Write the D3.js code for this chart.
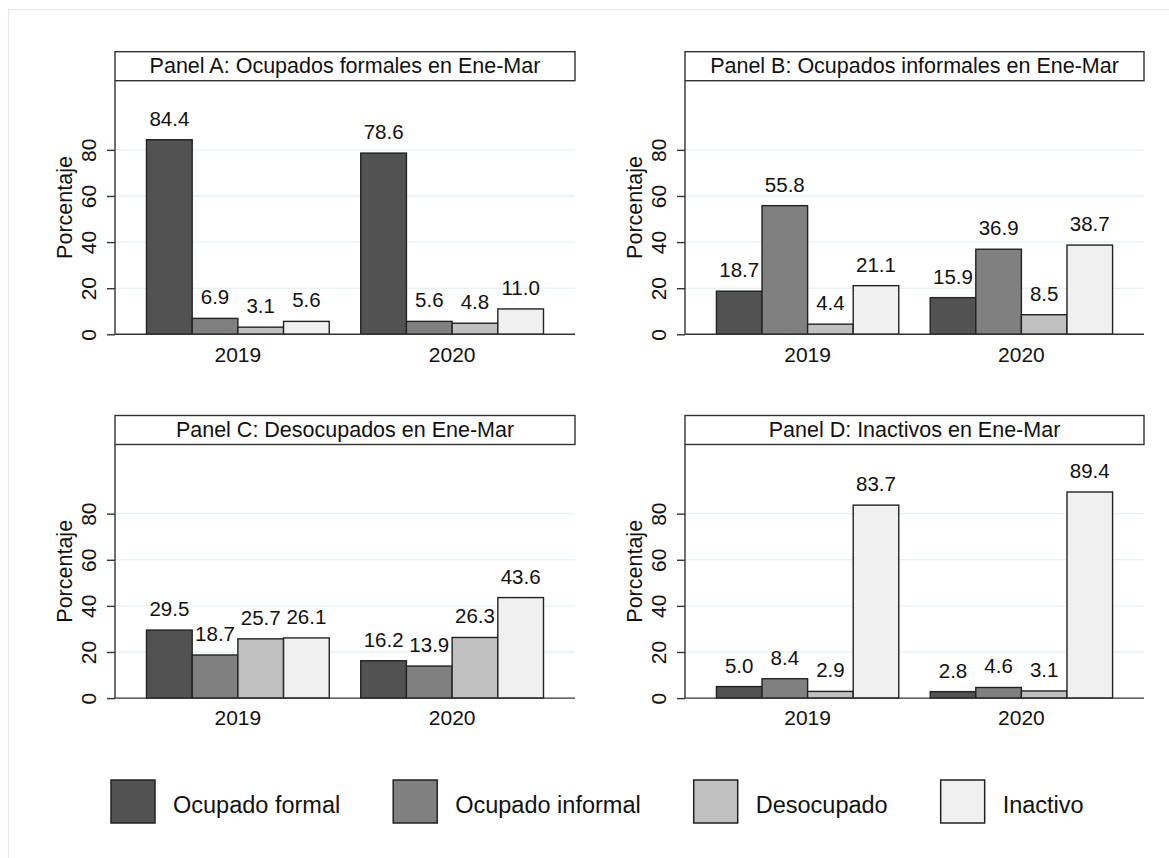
<!DOCTYPE html>
<html>
<head>
<meta charset="utf-8">
<script src="https://cdn.jsdelivr.net/npm/d3@7"></script>
<style>
  body { margin: 0; background: #fff; }
  text { font-family: "Liberation Sans", Arial, Helvetica, sans-serif; fill: #111; }
</style>
</head>
<body>
<svg id="chart" width="1169" height="858"></svg>
<script>
var years = ["2019", "2020"];
var series = ["Ocupado formal", "Ocupado informal", "Desocupado", "Inactivo"];
var yTicks = [0, 20, 40, 60, 80];

var titleA = "Panel A: Ocupados formales en Ene-Mar";
var titleB = "Panel B: Ocupados informales en Ene-Mar";
var titleC = "Panel C: Desocupados en Ene-Mar";
var titleD = "Panel D: Inactivos en Ene-Mar";

// one row per year, one value per series
var valuesA = [[84.4, 6.9, 3.1, 5.6], [78.6, 5.6, 4.8, 11.0]];
var valuesB = [[18.7, 55.8, 4.4, 21.1], [15.9, 36.9, 8.5, 38.7]];
var valuesC = [[29.5, 18.7, 25.7, 26.1], [16.2, 13.9, 26.3, 43.6]];
var valuesD = [[5.0, 8.4, 2.9, 83.7], [2.8, 4.6, 3.1, 89.4]];

var fills = ["#525252", "#808080", "#c0c0c0", "#f0f0f0"];
var color = d3.scaleOrdinal().domain(series).range(fills);

var svg = d3.select("#chart");

// faint outer frame (only its top and left edges are in view)
svg.append("rect")
  .attr("x", 8.5).attr("y", 9.5)
  .attr("width", 1300).attr("height", 1000)
  .attr("fill", "none")
  .attr("stroke", "#e4eaea")
  .attr("stroke-width", 1.2);

var panels = [
  { title: titleA, values: valuesA, x0: 115, x1: 575, top: 51.7 },
  { title: titleB, values: valuesB, x0: 685, x1: 1144, top: 51.7 },
  { title: titleC, values: valuesC, x0: 115, x1: 575, top: 415.5 },
  { title: titleD, values: valuesD, x0: 685, x1: 1144, top: 415.5 }
];

panels.forEach(drawPanel);

function drawPanel(p) {
  var g = svg.append("g");
  var boxH = 29;
  var plotTop = p.top + boxH;
  var plotBottom = plotTop + 253.6;

  var y = d3.scaleLinear().domain([0, 110]).range([plotBottom, plotTop]);
  var x = d3.scaleBand().domain(years).range([p.x0, p.x1])
    .paddingInner(0.147).paddingOuter(0.147);
  var xs = d3.scaleBand().domain(series).range([0, x.bandwidth()]);

  // gridlines
  g.selectAll(".grid")
    .data(yTicks.filter(function (d) { return d > 0; }))
    .enter()
    .append("line")
    .attr("x1", p.x0).attr("x2", p.x1)
    .attr("y1", function (d) { return y(d); })
    .attr("y2", function (d) { return y(d); })
    .attr("stroke", "#e8f1f3")
    .attr("stroke-width", 1.4);

  // bars
  var groups = g.selectAll(".year")
    .data(p.values)
    .enter()
    .append("g")
    .attr("transform", function (d, i) { return "translate(" + x(years[i]) + ",0)"; });

  groups.selectAll("rect")
    .data(function (d) { return d.map(function (v, j) { return { s: series[j], v: v }; }); })
    .enter()
    .append("rect")
    .attr("x", function (d) { return xs(d.s); })
    .attr("y", function (d) { return y(d.v); })
    .attr("width", xs.bandwidth())
    .attr("height", function (d) { return y(0) - y(d.v); })
    .attr("fill", function (d) { return color(d.s); })
    .attr("stroke", "#222")
    .attr("stroke-width", 1.4);

  groups.selectAll(".lab")
    .data(function (d) { return d.map(function (v, j) { return { s: series[j], v: v }; }); })
    .enter()
    .append("text")
    .attr("x", function (d) { return xs(d.s) + xs.bandwidth() / 2; })
    .attr("y", function (d) { return y(d.v) - 14; })
    .attr("text-anchor", "middle")
    .style("font-size", "20.5px")
    .text(function (d) { return d3.format(".1f")(d.v); });

  // y axis
  var yAxis = d3.axisLeft(y).tickValues(yTicks).tickSize(8).tickPadding(10)
    .tickFormat(d3.format("d"));
  var ya = g.append("g")
    .attr("transform", "translate(" + p.x0 + ",0)")
    .call(yAxis);
  ya.select(".domain").remove();
  ya.selectAll(".tick line").attr("stroke", "#333").attr("stroke-width", 1.4);
  ya.selectAll(".tick text")
    .attr("x", null).attr("dy", null)
    .attr("transform", "translate(-27,0) rotate(-90)")
    .attr("text-anchor", "middle")
    .attr("dominant-baseline", "central")
    .attr("fill", "#111")
    .style("font-size", "21px")
    .style("font-family", "'Liberation Sans', Arial, sans-serif");

  g.append("line")
    .attr("x1", p.x0).attr("x2", p.x0)
    .attr("y1", plotTop).attr("y2", plotBottom)
    .attr("stroke", "#333").attr("stroke-width", 1.4);

  // x axis
  var xAxis = d3.axisBottom(x).tickSize(0).tickPadding(0);
  var xa = g.append("g")
    .attr("transform", "translate(0," + plotBottom + ")")
    .call(xAxis);
  xa.select(".domain").attr("stroke", "#333").attr("stroke-width", 1.4)
    .attr("d", "M" + p.x0 + ",0H" + p.x1);
  xa.selectAll(".tick text")
    .attr("y", 27.4).attr("dy", null)
    .attr("fill", "#111")
    .style("font-size", "21px")
    .style("font-family", "'Liberation Sans', Arial, sans-serif");

  g.append("text")
    .attr("transform", "translate(" + (p.x0 - 50) + "," + ((plotTop + plotBottom) / 2) + ") rotate(-90)")
    .attr("text-anchor", "middle")
    .attr("dominant-baseline", "central")
    .style("font-size", "21.5px")
    .text("Porcentaje");

  // title strip
  g.append("rect")
    .attr("x", p.x0).attr("y", p.top)
    .attr("width", p.x1 - p.x0).attr("height", boxH)
    .attr("fill", "#fff")
    .attr("stroke", "#333")
    .attr("stroke-width", 1.4);
  g.append("text")
    .attr("x", (p.x0 + p.x1) / 2)
    .attr("y", p.top + 21)
    .attr("text-anchor", "middle")
    .style("font-size", "21.5px")
    .text(p.title);
}

// legend
var legend = svg.append("g");
var lx = 111;
series.forEach(function (s) {
  var item = legend.append("g").attr("transform", "translate(" + lx + ",780)");
  item.append("rect")
    .attr("width", 44).attr("height", 43)
    .attr("fill", color(s))
    .attr("stroke", "#222")
    .attr("stroke-width", 1.5);
  var t = item.append("text")
    .attr("x", 62).attr("y", 33.3)
    .style("font-size", "23.5px")
    .text(s);
  lx += 62 + t.node().getComputedTextLength() + 53;
});
</script>
</body>
</html>
